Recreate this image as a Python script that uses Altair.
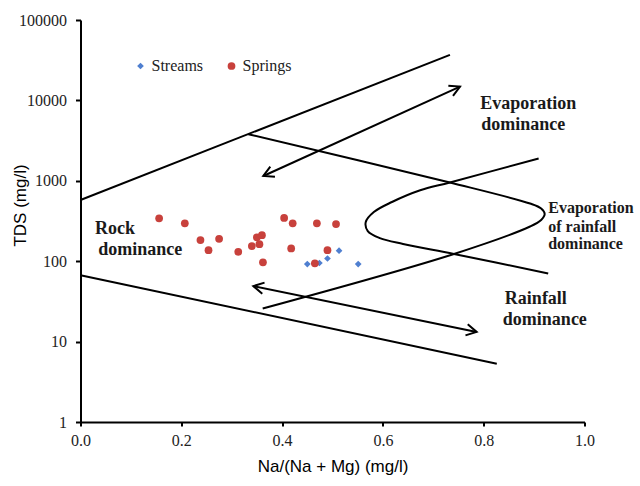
import math
import altair as alt
import pandas as pd

# Plot-area size in pixels (also used to orient arrowheads on screen)
W, H = 504, 402
LOG_MAX = 5  # y axis spans 10^0 .. 10^5

# ---- samples: Na/(Na+Mg) ratio and TDS (mg/l) ----
stream_x = [0.450, 0.474, 0.490, 0.513, 0.551]
stream_tds = [92, 95, 108, 135, 92]

spring_x = [0.156, 0.207, 0.238, 0.275, 0.254, 0.313, 0.340, 0.350, 0.360,
            0.355, 0.362, 0.404, 0.421, 0.469, 0.507, 0.418, 0.490, 0.465]
spring_tds = [341, 296, 183, 190, 137, 131, 154, 198, 211,
              163, 97, 345, 296, 296, 290, 144, 137, 94]

# ---- Gibbs boundary lines ----
upper_x = [0.0, 0.733]
upper_tds = [577, 36900]
lower_x = [0.0, 0.826]
lower_tds = [67, 5.3]

# curve running down from the upper boundary, round the right tip of the loop
curve_a_x = [0.333, 0.733, 0.892, 0.914, 0.921, 0.914, 0.892, 0.741, 0.3615]
curve_a_tds = [3800, 953, 521, 452, 386, 325, 270, 123, 25.8]
# curve entering from the right, round the left tip of the loop
curve_b_x = [0.909, 0.733, 0.674, 0.618, 0.582, 0.566, 0.570, 0.594, 0.640, 0.741, 0.928]
curve_b_tds = [1896, 953, 762, 545, 409, 307, 237, 194, 164, 123, 70.5]

# ---- double-headed arrows ----
evap_arrow_x = [0.3627, 0.753]
evap_arrow_tds = [1148, 14860]
rain_arrow_x = [0.343, 0.786]
rain_arrow_tds = [49, 13.2]

# ---- region labels (one row per text line) ----
label_text = ["Evaporation", "dominance", "Rock", "dominance",
              "Evaporation", "of rainfall", "dominance", "Rainfall", "dominance"]
label_x = [0.793, 0.795, 0.029, 0.035, 0.928, 0.928, 0.928, 0.842, 0.838]
label_tds = [9040, 4920, 251, 137, 458, 266, 163, 33.7, 18.5]
label_size = [18, 18, 18, 18, 16, 16, 16, 18, 18]

# ---- tables ----
samples = pd.DataFrame({
    "x": stream_x + spring_x,
    "tds": stream_tds + spring_tds,
    "type": ["Streams"] * len(stream_x) + ["Springs"] * len(spring_x),
})

path_rows = []
for name, xs, ys in [("upper", upper_x, upper_tds), ("lower", lower_x, lower_tds),
                     ("curve_a", curve_a_x, curve_a_tds), ("curve_b", curve_b_x, curve_b_tds),
                     ("evap", evap_arrow_x, evap_arrow_tds), ("rain", rain_arrow_x, rain_arrow_tds)]:
    for i, (xv, yv) in enumerate(zip(xs, ys)):
        path_rows.append({"path": name, "ord": i, "x": xv, "tds": yv})
paths = pd.DataFrame(path_rows)


def screen_angle(x0, y0, x1, y1):
    dx = (x1 - x0) * W
    dy = -(math.log10(y1) - math.log10(y0)) / LOG_MAX * H
    return math.degrees(math.atan2(dy, dx)) % 360


head_rows = []
for xs, ys in [(evap_arrow_x, evap_arrow_tds), (rain_arrow_x, rain_arrow_tds)]:
    head_rows.append({"x": xs[1], "tds": ys[1], "ang": screen_angle(xs[0], ys[0], xs[1], ys[1])})
    head_rows.append({"x": xs[0], "tds": ys[0], "ang": screen_angle(xs[1], ys[1], xs[0], ys[0])})
heads = pd.DataFrame(head_rows)

labels = pd.DataFrame({"text": label_text, "x": label_x, "tds": label_tds, "size": label_size})

# ---- shared encodings ----
x_enc = alt.X(
    "x:Q",
    scale=alt.Scale(domain=[0, 1], nice=False, zero=False),
    axis=alt.Axis(
        values=[0, 0.2, 0.4, 0.6, 0.8, 1.0], format=".1f",
        title="Na/(Na + Mg) (mg/l)", grid=False, labelFlush=False,
        tickSize=4, tickWidth=2, tickColor="black",
        domainColor="black", domainWidth=2,
        labelFont="Liberation Serif", labelFontSize=16, labelColor="#222",
        labelPadding=6,
        titleFont="Liberation Sans", titleFontSize=17, titleFontWeight="normal",
        titleColor="black", titlePadding=10,
    ),
)
y_enc = alt.Y(
    "tds:Q",
    scale=alt.Scale(type="log", domain=[1, 100000], nice=False),
    axis=alt.Axis(
        values=[1, 10, 100, 1000, 10000, 100000], format="d",
        title="TDS (mg/l)", grid=False, labelFlush=False,
        tickSize=5, tickWidth=2, tickColor="black",
        domainColor="black", domainWidth=2,
        labelFont="Liberation Serif", labelFontSize=16, labelColor="#222",
        labelPadding=9,
        titleFont="Liberation Sans", titleFontSize=17, titleFontWeight="normal",
        titleColor="black", titleX=-60, titleY=185, titleAngle=270,
        titleAlign="center", titleBaseline="middle",
    ),
)

lines = alt.Chart(paths).mark_line(
    color="black", strokeWidth=2, interpolate="catmull-rom"
).encode(x=x_enc, y=y_enc, detail="path:N", order="ord:Q")

arrowheads = alt.Chart(heads).mark_point(
    shape="M-1,-0.55L0,0L-1,0.55", filled=False, size=420,
    strokeWidth=2, color="black", opacity=1,
).encode(x=x_enc, y=y_enc, angle=alt.Angle("ang:Q", scale=None))

points = alt.Chart(samples).mark_point(filled=True, opacity=1).encode(
    x=x_enc, y=y_enc,
    color=alt.Color(
        "type:N",
        scale=alt.Scale(domain=["Streams", "Springs"], range=["#4f7fd0", "#c8413c"]),
        legend=alt.Legend(
            title=None, orient="none", legendX=52, legendY=38, direction="horizontal",
            labelFont="Liberation Serif", labelFontSize=16, labelColor="#222",
            symbolSize=40, labelOffset=3, columnPadding=20, symbolStrokeWidth=0,
        ),
    ),
    shape=alt.Shape(
        "type:N",
        scale=alt.Scale(domain=["Streams", "Springs"], range=["diamond", "circle"]),
        legend=None,
    ),
    size=alt.Size(
        "type:N",
        scale=alt.Scale(domain=["Streams", "Springs"], range=[45, 60]),
        legend=None,
    ),
)

texts = alt.Chart(labels).mark_text(
    align="left", baseline="middle", font="Liberation Serif",
    fontWeight="bold", color="#1a1a1a",
).encode(x=x_enc, y=y_enc, text="text:N", size=alt.Size("size:Q", scale=None))

chart = alt.layer(lines, arrowheads, points, texts).properties(
    width=W, height=H, autosize="none",
    padding={"left": 80.5, "top": 20, "right": 55.5, "bottom": 64},
    background="white",
).configure_view(stroke=None)

chart.save("out.html", embed_options={"renderer": "svg", "actions": False})
